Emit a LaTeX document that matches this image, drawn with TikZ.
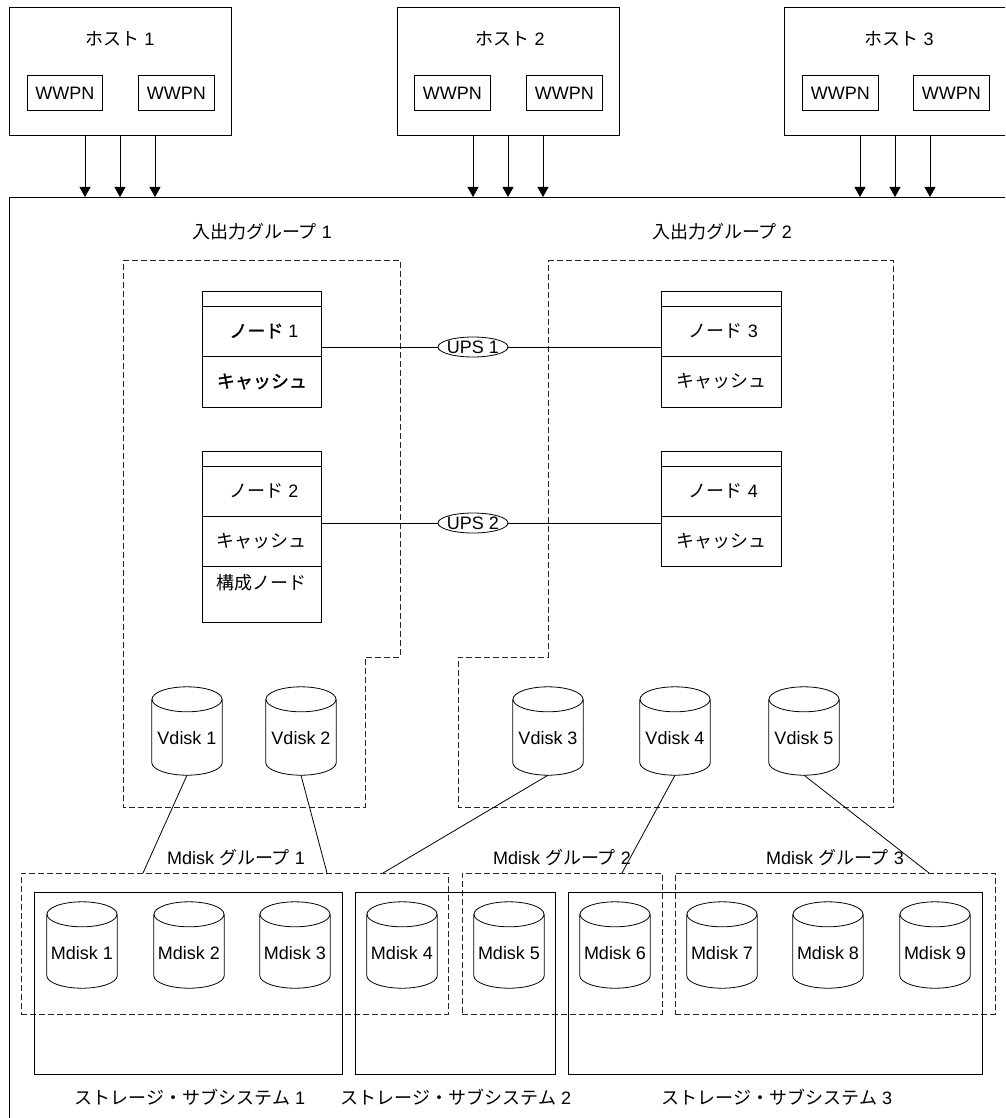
\documentclass[tikz,border=0pt]{standalone}
\usepackage{fontspec}
\setmainfont{Liberation Sans}
\newfontfamily\jp{Noto Sans CJK JP}
\newfontfamily\jpb[FakeBold=1.5]{Noto Sans CJK JP}
\usetikzlibrary{calc,arrows.meta,shapes.geometric}
\newcommand\drawcyl[1]{%
  \draw[line width=0.8pt] ($(#1.north)+(0,12.5)$) ellipse [x radius=35, y radius=12.5];
  \draw[line width=0.8pt] ($(#1.north west)+(0,12.5)$) -- ($(#1.south west)+(0,-12.5)$)
     .. controls ($(#1.south west)+(0,-5.6)$) and ($(#1.south)+(-19.3,0)$) .. (#1.south)
     .. controls ($(#1.south)+(19.3,0)$) and ($(#1.south east)+(0,-5.6)$) .. ($(#1.south east)+(0,-12.5)$)
     -- ($(#1.north east)+(0,12.5)$);}
\begin{document}
\begin{tikzpicture}[x=1pt,y=-1pt,
  every node/.style={font=\fontsize{18}{21}\selectfont, inner sep=0pt},
  box/.style={draw, rectangle, line width=0.9pt},
  grp/.style={draw=black!85, rectangle, line width=0.8pt, dash pattern=on 6pt off 3pt},
  cylbox/.style={rectangle, minimum width=70pt},
  vdisk/.style={cylbox, minimum height=88pt},
  mdisk/.style={cylbox, minimum height=86pt},
  conn/.style={line width=0.8pt},
  arr/.style={line width=0.9pt, -{Triangle[width=11pt,length=10pt]}}
]
\useasboundingbox (0,0) rectangle (1005,1118);
\clip (0,0) rectangle (1005,1118);

% hosts
\node[box, anchor=north west, minimum width=222pt, minimum height=128pt] (h1) at (9,7) {};
\node[box, anchor=north west, minimum width=222pt, minimum height=128pt] (h2) at (397,7) {};
\node[box, anchor=north west, minimum width=226pt, minimum height=128pt] (h3) at (784,7) {};
\node (h1t) at (120,39) {{\jp ホスト} 1};
\node (h2t) at (510,39) {{\jp ホスト} 2};
\node (h3t) at (899,39) {{\jp ホスト} 3};
\node[box, anchor=north west, minimum width=75pt, minimum height=35pt] (w11) at (27,75) {WWPN};
\node[box, anchor=north west, minimum width=76pt, minimum height=35pt] (w12) at (138,75) {WWPN};
\node[box, anchor=north west, minimum width=76pt, minimum height=35pt] (w21) at (414,75) {WWPN};
\node[box, anchor=north west, minimum width=76pt, minimum height=35pt] (w22) at (526,75) {WWPN};
\node[box, anchor=north west, minimum width=76pt, minimum height=35pt] (w31) at (802,75) {WWPN};
\node[box, anchor=north west, minimum width=76pt, minimum height=35pt] (w32) at (913,75) {WWPN};

% system box
\node[box, anchor=north west, minimum width=1010pt, minimum height=940pt] (sys) at (9,197) {};
\foreach \h in {h1,h2,h3}{
  \foreach \o in {76,111,146}{
    \coordinate (t) at ($(\h.south west)+(\o,0)$);
    \draw[arr] (t) -- (t |- sys.north);
  }
}

% I/O groups
\node (g1l) at (262,232) {{\jp 入出力グループ} 1};
\node (g2l) at (722,232) {{\jp 入出力グループ} 2};
\draw[grp] (123,260) -- (400,260) -- (400,657) -- (365,657) -- (365,807) -- (123,807) -- cycle;
\draw[grp] (548,260) -- (893,260) -- (893,807) -- (458,807) -- (458,657) -- (548,657) -- cycle;

% nodes
\node[box, anchor=north west, minimum width=119pt, minimum height=116pt] (n1) at (202,291) {};
\draw[line width=0.9pt] ($(n1.north west)+(0,15)$) -- ($(n1.north east)+(0,15)$);
\draw[line width=0.9pt] ($(n1.north west)+(0,65)$) -- ($(n1.north east)+(0,65)$);
\node (n1a) at ($(n1.north)+(2,40)$) {{\jpb ノード} 1};
\node (n1b) at ($(n1.north)+(0,90.5)$) {\jpb キャッシュ};

\node[box, anchor=north west, minimum width=119pt, minimum height=171pt] (n2) at (202,451) {};
\draw[line width=0.9pt] ($(n2.north west)+(0,15)$) -- ($(n2.north east)+(0,15)$);
\draw[line width=0.9pt] ($(n2.north west)+(0,65)$) -- ($(n2.north east)+(0,65)$);
\draw[line width=0.9pt] ($(n2.north west)+(0,115)$) -- ($(n2.north east)+(0,115)$);
\node (n2a) at ($(n2.north)+(2,40)$) {{\jp ノード} 2};
\node (n2b) at ($(n2.north)+(0,90)$) {\jp キャッシュ};
\node (n2c) at ($(n2.north)+(0,132)$) {\jp 構成ノード};

\node[box, anchor=north west, minimum width=120pt, minimum height=116pt] (n3) at (661,291) {};
\draw[line width=0.9pt] ($(n3.north west)+(0,15)$) -- ($(n3.north east)+(0,15)$);
\draw[line width=0.9pt] ($(n3.north west)+(0,65)$) -- ($(n3.north east)+(0,65)$);
\node (n3a) at ($(n3.north)+(2,40)$) {{\jp ノード} 3};
\node (n3b) at ($(n3.north)+(0,90.5)$) {\jp キャッシュ};

\node[box, anchor=north west, minimum width=120pt, minimum height=115pt] (n4) at (661,451) {};
\draw[line width=0.9pt] ($(n4.north west)+(0,15)$) -- ($(n4.north east)+(0,15)$);
\draw[line width=0.9pt] ($(n4.north west)+(0,65)$) -- ($(n4.north east)+(0,65)$);
\node (n4a) at ($(n4.north)+(2,40)$) {{\jp ノード} 4};
\node (n4b) at ($(n4.north)+(0,90)$) {\jp キャッシュ};

% UPS
\node[draw, ellipse, line width=0.8pt, minimum width=70pt, minimum height=20pt] (u1) at (473,347) {};
\node (u1t) at (u1) {UPS 1};
\node[draw, ellipse, line width=0.8pt, minimum width=70pt, minimum height=20pt] (u2) at (473,523) {};
\node (u2t) at (u2) {UPS 2};
\draw[conn] (n1.east |- u1) -- (u1);
\draw[conn] (u1) -- (n3.west |- u1);
\draw[conn] (n2.east |- u2) -- (u2);
\draw[conn] (u2) -- (n4.west |- u2);

% vdisks
\node[vdisk] (v1) at (187,731) {};
\node[vdisk] (v2) at (301,731) {};
\node[vdisk] (v3) at (548,731) {};
\node[vdisk] (v4) at (675,731) {};
\node[vdisk] (v5) at (804,731) {};
\foreach \v/\t in {v1/1,v2/2,v3/3,v4/4,v5/5}{
  \drawcyl{\v}
  \node (\v t) at ($(\v.center)+(0,7)$) {Vdisk \t};
}

% mdisk groups and storage subsystems
\node[grp, anchor=north west, minimum width=427pt, minimum height=141pt] (mg1) at (21,873) {};
\node[grp, anchor=north west, minimum width=200pt, minimum height=141pt] (mg2) at (462,873) {};
\node[grp, anchor=north west, minimum width=320pt, minimum height=141pt] (mg3) at (675,873) {};
\node (mg1t) at (236,858) {Mdisk {\jp グループ} 1};
\node (mg2t) at (562,858) {Mdisk {\jp グループ} 2};
\node (mg3t) at (835,858) {Mdisk {\jp グループ} 3};

\node[box, anchor=north west, minimum width=308pt, minimum height=182pt] (s1) at (34,892) {};
\node[box, anchor=north west, minimum width=200pt, minimum height=182pt] (s2) at (355,892) {};
\node[box, anchor=north west, minimum width=414pt, minimum height=182pt] (s3) at (568,892) {};
\node (s1t) at (190,1097) {{\jp ストレージ・サブシステム} 1};
\node (s2t) at (456,1097) {{\jp ストレージ・サブシステム} 2};
\node (s3t) at (777,1097) {{\jp ストレージ・サブシステム} 3};

\foreach \i/\x in {1/82,2/189,3/295,4/402,5/509,6/615,7/722,8/828,9/935}{
  \node[mdisk] (m\i) at (\x,945) {};
  \drawcyl{m\i}
  \node (m\i t) at ($(m\i.center)+(0,8)$) {Mdisk \i};
}

% vdisk to mdisk group connectors
\coordinate (e1) at ($(mg1.north west)+(122,0)$);
\coordinate (e2) at ($(mg1.north west)+(306,0)$);
\coordinate (e3) at ($(mg1.north west)+(362,0)$);
\coordinate (e4) at ($(mg2.north west)+(160,0)$);
\coordinate (e5) at ($(mg3.north west)+(254,0)$);
\draw[conn] (v1.south) -- (e1);
\draw[conn] (v2.south) -- (e2);
\draw[conn] (v3.south) -- (e3);
\draw[conn] (v4.south) -- (e4);
\draw[conn] (v5.south) -- (e5);
\end{tikzpicture}
\end{document}
